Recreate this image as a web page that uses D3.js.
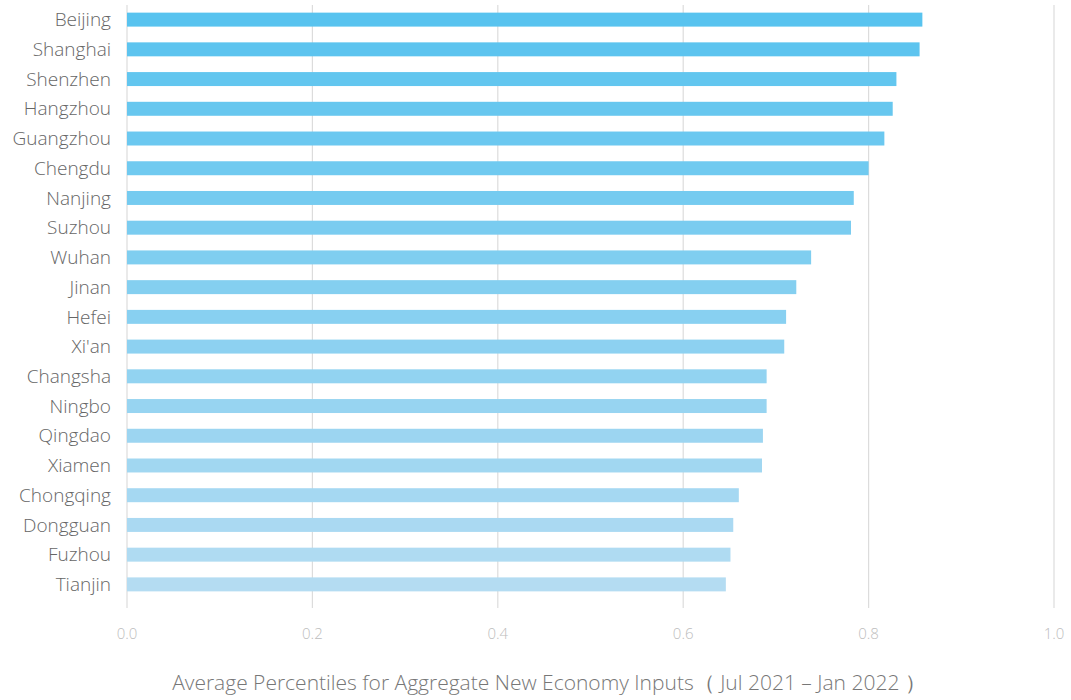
<!DOCTYPE html>
<html>
<head>
<meta charset="utf-8">
<script src="https://cdn.jsdelivr.net/npm/d3@7"></script>
<style>
  html, body { margin: 0; padding: 0; background: #fff; }
  svg { display: block; font-family: "Open Sans", "Noto Sans", sans-serif; }
</style>
</head>
<body>
<svg id="chart" width="1071" height="700"></svg>
<script>
// City ranking: average percentile of aggregate new-economy inputs
const cities = ["Beijing", "Shanghai", "Shenzhen", "Hangzhou", "Guangzhou", "Chengdu",
  "Nanjing", "Suzhou", "Wuhan", "Jinan", "Hefei", "Xi'an", "Changsha", "Ningbo",
  "Qingdao", "Xiamen", "Chongqing", "Dongguan", "Fuzhou", "Tianjin"];
const values = [0.858, 0.855, 0.830, 0.826, 0.817, 0.800, 0.784, 0.781, 0.738, 0.722,
  0.711, 0.709, 0.690, 0.690, 0.686, 0.685, 0.660, 0.654, 0.651, 0.646];
const xTicks = [0.0, 0.2, 0.4, 0.6, 0.8, 1.0];
const axisTitle = "Average Percentiles for Aggregate New Economy Inputs\uFF08 Jul 2021 \u2013 Jan 2022 \uFF09";

const svg = d3.select("#chart");
const plotLeft = 127, plotRight = 1054, gridTop = 5, gridBottom = 608;

const x = d3.scaleLinear().domain([0, 1]).range([plotLeft, plotRight]);
const y = d3.scaleBand().domain(cities).range([5.2, 598.8])
  .paddingInner(0.53).paddingOuter(0.25);
const color = d3.scaleLinear().domain([0, cities.length - 1])
  .range(["#58c3ef", "#b4dcf2"]).interpolate(d3.interpolateRgb);

// vertical gridlines
svg.append("g").selectAll("line").data(xTicks).join("line")
  .attr("x1", d => x(d)).attr("x2", d => x(d))
  .attr("y1", gridTop).attr("y2", gridBottom)
  .attr("stroke", "#dcdcdc").attr("stroke-width", 1.2);

// bars
svg.append("g").selectAll("rect").data(cities).join("rect")
  .attr("x", x(0))
  .attr("y", d => y(d))
  .attr("width", (d, i) => x(values[i]) - x(0))
  .attr("height", y.bandwidth())
  .attr("fill", (d, i) => color(i));

// category labels
svg.append("g").selectAll("text").data(cities).join("text")
  .attr("x", 111)
  .attr("y", d => y(d) + y.bandwidth() / 2)
  .attr("dy", "0.35em")
  .attr("text-anchor", "end")
  .attr("font-size", 19)
  .attr("font-weight", 300)
  .attr("fill", "#666")
  .text(d => d);

// x tick labels
svg.append("g").selectAll("text").data(xTicks).join("text")
  .attr("x", d => x(d))
  .attr("y", 634)
  .attr("dy", "0.35em")
  .attr("text-anchor", "middle")
  .attr("font-size", 15)
  .attr("font-weight", 300)
  .attr("fill", "#bdbdbd")
  .text(d => d3.format(".1f")(d));

// axis title
svg.append("text")
  .attr("x", 549)
  .attr("y", 683)
  .attr("dy", "0.35em")
  .attr("text-anchor", "middle")
  .attr("font-size", 21)
  .attr("font-weight", 300)
  .attr("fill", "#777")
  .text(axisTitle);
</script>
</body>
</html>
